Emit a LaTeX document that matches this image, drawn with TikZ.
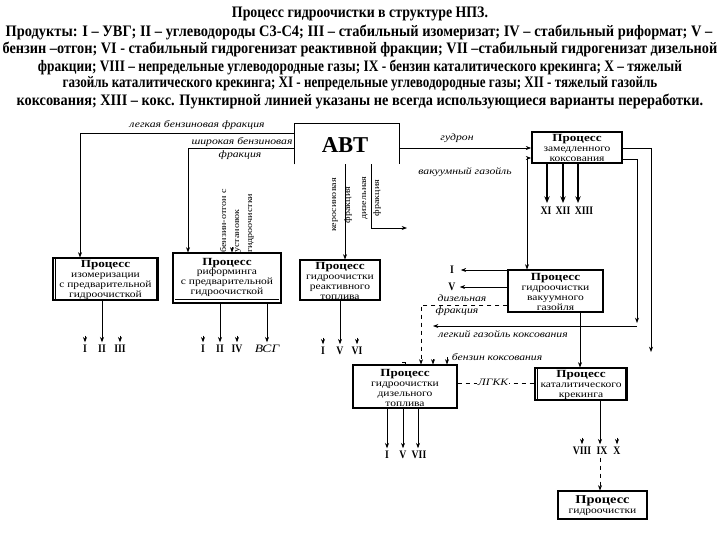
\documentclass[tikz,border=0pt]{standalone}
\usepackage{fontspec}
\setmainfont{Liberation Serif}
\newfontfamily\bxf{Liberation Serif}[FakeStretch=1.2]
\newfontfamily\nmf{Liberation Serif}[FakeStretch=0.85]
\usetikzlibrary{arrows.meta,fit,calc}
\newcommand\tline[2]{\resizebox{#1}{\height}{#2}}
\newcommand\hd{{\fontsize{8.2}{7.4}\selectfont\bfseries Процесс}}
\begin{document}
\begin{tikzpicture}[x=0.75pt,y=-0.75pt,
  title/.style={font=\bfseries\fontsize{12}{12}\selectfont, inner sep=0pt},
  box/.style={draw, line width=0.8pt, inner sep=0pt},
  btext/.style={inner sep=0pt, align=center, font=\bxf\fontsize{7.2}{7.4}\selectfont},
  arr/.style={-{Stealth[length=4pt,width=3pt]}, line width=0.5pt},
  tarr/.style={-{Stealth[length=5pt,width=4pt]}, line width=1.3pt},
  lbl/.style={font=\bxf\itshape\fontsize{7.3}{8}\selectfont, inner sep=0pt},
  vlbl/.style={inner sep=0pt, rotate=90},
  num/.style={font=\nmf\bfseries\fontsize{8.6}{9}\selectfont, inner sep=0pt}]
\useasboundingbox (0,0) rectangle (720,540);
\fill[white] (0,0) rectangle (720,540);

% title
\node[title] (t1) at (360,14) {\tline{192pt}{Процесс гидроочистки в структуре НПЗ.}};
\node[title] (t2) at (359,32) {\tline{530pt}{Продукты: I – УВГ; II – углеводороды С3-С4; III – стабильный изомеризат; IV – стабильный риформат; V –}};
\node[title] (t3) at (360,49) {\tline{536pt}{бензин –отгон; VI - стабильный гидрогенизат реактивной фракции; VII –стабильный гидрогенизат дизельной}};
\node[title] (t4) at (360,67) {\tline{483pt}{фракции; VIII – непредельные углеводородные газы; IX - бензин каталитического крекинга; X – тяжелый}};
\node[title] (t5) at (360,84) {\tline{446pt}{газойль каталитического крекинга; XI - непредельные углеводородные газы; XII - тяжелый газойль}};
\node[title] (t6) at (360,101) {\tline{515pt}{коксования; XIII – кокс. Пунктирной линией указаны не всегда использующиеся варианты переработки.}};

% AVT
\node[inner sep=0pt, fit={(295,124) (399,164)}] (avt) {};
\draw[line width=0.8pt] (avt.south west) -- (avt.north west) -- (avt.north east) -- (avt.south east);
\node[font=\bfseries\fontsize{17}{17}\selectfont, inner sep=0pt] (avtl) at (345,145) {АВТ};

% boxes
\node[box, fit={(53,258) (158,300)}] (iso) {};
\node[btext] (isot) at ([yshift=-0.5pt]iso.center) {\hd\\изомеризации\\с предварительной\\гидроочисткой};
\draw[line width=0.5pt] ([xshift=2pt]iso.north west) -- ([xshift=2pt]iso.south west);
\draw[line width=0.5pt] ([xshift=-2pt]iso.north east) -- ([xshift=-2pt]iso.south east);
\node[box, fit={(173,253) (281,303)}] (ref) {};
\node[btext] (reft) at ([yshift=0.5pt]ref.center) {\hd\\риформинга\\с предварительной\\гидроочисткой};
\draw[line width=0.5pt] ([xshift=2.2pt,yshift=3pt]ref.south west) -- ([xshift=-2.2pt,yshift=3pt]ref.south east);
\node[box, fit={(300,260) (380,300)}] (reac) {};
\node[btext] (react) at ([yshift=-0.5pt]reac.center) {\hd\\гидроочистки\\реактивного\\топлива};
\node[box, line width=1.3pt, fit={(532,132) (622,163)}] (cok) {};
\node[btext] (cokt) at ([yshift=-0.5pt]cok.center) {\hd\\замедленного\\коксования};
\node[box, fit={(508,270) (603,312)}] (vgo) {};
\node[btext] (vgot) at ([yshift=-0.5pt]vgo.center) {\hd\\гидроочистки\\вакуумного\\газойля};
\node[box, fit={(353,365) (457,408)}] (dsl) {};
\node[btext] (dslt) at ([yshift=-1pt]dsl.center) {\hd\\гидроочистки\\дизельного\\топлива};
\node[box, fit={(535,368) (627,400)}] (cat) {};
\node[btext] (catt) at ([yshift=-0.5pt]cat.center) {\hd\\каталитического\\крекинга};
\draw[line width=0.5pt] ([xshift=2pt]cat.north west) -- ([xshift=2pt]cat.south west);
\draw[line width=0.5pt] ([xshift=-2pt]cat.north east) -- ([xshift=-2pt]cat.south east);
\node[box, fit={(558,491) (647,519)}] (fin) {};
\node[btext] (fint) at ([yshift=-0.5pt]fin.center) {{\fontsize{9}{8}\selectfont\bfseries Процесс}\\гидроочистки};

% AVT outputs
\draw[arr] (avt.west |- 0,133) -| (iso.north -| 80,0);
\node[lbl] (l1) at (197,125) {легкая бензиновая фракция};
\draw[arr] (avt.west |- 0,148) -| (ref.north -| 188,0);
\node[lbl] (l2) at (242,142) {широкая бензиновая};
\node[lbl] (l2b) at (240,155) {фракция};
\node[vlbl, align=left, font=\bxf\fontsize{6.3}{9.8}\selectfont] (otg) at (237,221) {бензин-отгон с\\установок\\гидроочистки};
\coordinate (otgc) at (232,247);
\draw[arr] (otgc) -- (ref.north -| otgc);
\draw[arr] (avt.south -| 345,0) -- (reac.north -| 345,0);
\node[vlbl, align=center, font=\bxf\fontsize{6.3}{10.5}\selectfont] (ker) at (342,205) {керосиновая\\фракция};
\coordinate (dz) at (407,228);
\draw[arr] (avt.south -| 371,0) |- (dz);
\node[vlbl, align=center, font=\bxf\fontsize{6.3}{9.8}\selectfont] (dzl) at (371.5,198) {дизельная\\фракция};
\draw[arr] (avt.east |- 0,148) -- (cok.west |- 0,148);
\node[lbl] (l3) at (457,138) {гудрон};
\node[lbl] (l4) at (465,172) {вакуумный газойль};
\coordinate (vg) at (527,158);
\draw[arr] (vg) -- (cok.west |- vg);
\draw[arr] (vg) -- (vgo.north -| vg);

% coking outputs
\node[num] (c1) at (546,211) {XI};
\node[num] (c2) at (563,211) {XII};
\node[num] (c3) at (584,211) {XIII};
\draw[tarr] (cok.south -| 547,0) -- (547,203);
\draw[tarr, line width=0.8pt] (cok.south -| 563,0) -- (563,203);
\draw[tarr] (cok.south -| 578,0) -- (578,203);
\coordinate (cg) at (651,352);
\draw[arr] (cok.east |- 0,148) -| (cg);
\coordinate (lg) at (637,323);
\draw[arr] (cok.east |- 0,159) -| (lg);
\coordinate (lgs) at (637,326);
\coordinate (lge) at (433,326);
\draw[arr] (lgs) -- (lge);
\node[lbl] (l5) at (503,334) {легкий газойль коксования};

% iso outputs
\node[num] (a1) at (85,349) {I};
\node[num] (a2) at (102,349) {II};
\node[num] (a3) at (120,349) {III};
\draw[arr] (iso.south -| a2) -- ([yshift=2pt]a2.north);
\draw[arr] ([yshift=7pt]a1.north) -- ([yshift=2pt]a1.north);
\draw[arr] ([yshift=7pt]a3.north) -- ([yshift=2pt]a3.north);

% reforming outputs
\node[num] (b1) at (203,349) {I};
\node[num] (b2) at (220,349) {II};
\node[num] (b3) at (237,349) {IV};
\node[lbl, font=\bxf\itshape\fontsize{8.5}{9}\selectfont] (b4) at (267,349) {ВСГ};
\draw[arr] (ref.south -| b2) -- ([yshift=2pt]b2.north);
\draw[arr] ([yshift=7pt]b1.north) -- ([yshift=2pt]b1.north);
\draw[arr] ([yshift=7pt]b3.north) -- ([yshift=2pt]b3.north);
\draw[arr] (ref.south -| b4) -- ([yshift=2pt]b4.north);

% reactive outputs
\node[num] (r1) at (323,351) {I};
\node[num] (r2) at (340,351) {V};
\node[num] (r3) at (357,351) {VI};
\draw[arr] (reac.south -| r2) -- ([yshift=2pt]r2.north);
\draw[arr] ([yshift=7pt]r1.north) -- ([yshift=2pt]r1.north);
\draw[arr] ([yshift=7pt]r3.north) -- ([yshift=2pt]r3.north);

% VGO outputs
\node[num] (v1) at (452,270) {I};
\node[num] (v2) at (452,287) {V};
\draw[arr] (vgo.west |- v1) -- ([xshift=5pt]v1.east);
\draw[arr] (vgo.west |- v2) -- ([xshift=3pt]v2.east);
\draw[arr, dashed] (vgo.west |- 0,305) -| (dsl.north -| 421,0);
\node[lbl] (l6) at (462,298) {дизельная};
\node[lbl] (l7) at (457,311) {фракция};
\draw[arr] (vgo.south -| 580,0) -- (cat.north -| 580,0);

% diesel inputs
\node[lbl] (l8) at (497,357) {бензин коксования};
\draw[arr] (447,357) -- (dsl.north -| 447,0);
\draw[arr] (433,359) -- (dsl.north -| 433,0);
\draw[line width=0.5pt] (402,362) -| (dsl.north -| 405,0);
\draw[dashed, line width=0.5pt] (dsl.east |- 0,383) -- (cat.west |- 0,383);
\node[lbl, fill=white, inner sep=1pt] (l9) at (493,382) {ЛГКК};

% diesel outputs
\node[num] (d1) at (387,455) {I};
\node[num] (d2) at (403,455) {V};
\node[num] (d3) at (419,455) {VII};
\draw[arr] (dsl.south -| d1) -- ([yshift=2pt]d1.north);
\draw[arr] (dsl.south -| d2) -- ([yshift=2pt]d2.north);
\draw[arr] (dsl.south -| 418,0) -- ([yshift=2pt]d3.north -| 418,0);

% cat outputs
\node[num] (k1) at (582,451) {VIII};
\node[num] (k2) at (602,451) {IX};
\node[num] (k3) at (617,451) {X};
\draw[arr] (cat.south -| 600,0) -- ([yshift=2pt]k2.north -| 600,0);
\draw[arr] ([yshift=7pt]k1.north) -- ([yshift=2pt]k1.north);
\draw[arr] ([yshift=7pt]k3.north) -- ([yshift=2pt]k3.north);
\draw[arr, dashed] ([yshift=-2pt]k2.south -| 600,0) -- (fin.north -| 600,0);
\end{tikzpicture}
\end{document}
